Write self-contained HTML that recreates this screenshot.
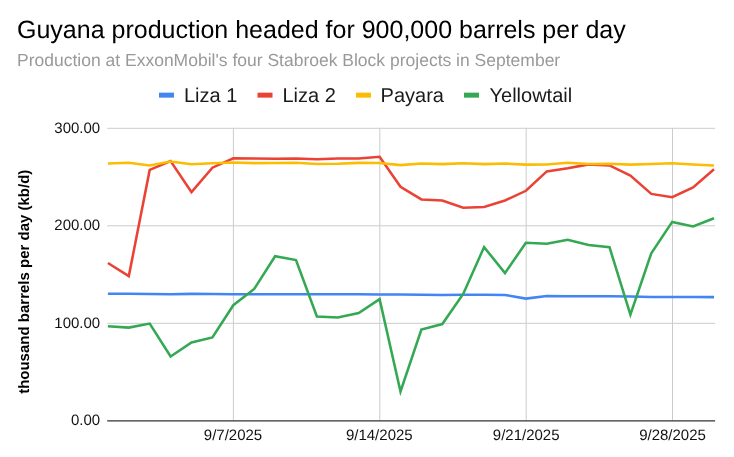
<!DOCTYPE html>
<html><head><meta charset="utf-8"><style>
html,body{margin:0;padding:0;background:#fff;}
svg{display:block;font-family:"Liberation Sans",Arial,sans-serif;text-rendering:geometricPrecision;}
</style></head><body>
<svg width="734" height="457" viewBox="0 0 734 457">
<rect width="734" height="457" fill="#fff"/>
<text x="17" y="38" font-size="25" fill="#000">Guyana production headed for 900,000 barrels per day</text>
<text x="17" y="66" font-size="17.5" fill="#999">Production at ExxonMobil's four Stabroek Block projects in September</text>
<g font-size="20" fill="#1a1a1a">
<rect x="159" y="92.65" width="15" height="5" fill="#4285f4"/><text x="184" y="101.5">Liza 1</text>
<rect x="257.5" y="92.65" width="15" height="5" fill="#ea4335"/><text x="282.5" y="101.5">Liza 2</text>
<rect x="356" y="92.65" width="15" height="5" fill="#fbbc04"/><text x="380.6" y="101.5">Payara</text>
<rect x="464" y="92.65" width="15" height="5" fill="#34a853"/><text x="489.5" y="101.5">Yellowtail</text>
</g>
<g stroke="#ccc" stroke-width="1">
<line x1="107.2" x2="715.1" y1="128.3" y2="128.3"/>
<line x1="107.2" x2="715.1" y1="225.8" y2="225.8"/>
<line x1="107.2" x2="715.1" y1="323.3" y2="323.3"/>
<line x1="233.4" x2="233.4" y1="127.8" y2="420.8"/>
<line x1="379.8" x2="379.8" y1="127.8" y2="420.8"/>
<line x1="526.2" x2="526.2" y1="127.8" y2="420.8"/>
<line x1="672.5" x2="672.5" y1="127.8" y2="420.8"/>
</g>
<line x1="107.2" x2="715.1" y1="420.85" y2="420.85" stroke="#333" stroke-width="1.1"/>
<g fill="none" stroke-width="2.55" stroke-linejoin="miter" stroke-miterlimit="10">
<polyline stroke="#4285f4" points="107.9,293.8 128.8,293.7 149.7,293.9 170.6,294.2 191.5,293.9 212.4,294.1 233.3,294.2 254.2,294.2 275.1,294.2 296.0,294.2 316.9,294.3 337.8,294.3 358.7,294.3 379.6,294.4 400.5,294.6 421.4,294.7 442.3,294.9 463.2,294.7 484.1,294.7 505.0,294.9 525.9,298.6 546.8,296.0 567.7,296.3 588.6,296.2 609.5,296.2 630.4,296.6 651.3,296.9 672.2,296.9 693.1,297.1 714.0,297.1"/>
<polyline stroke="#ea4335" points="107.9,263.0 128.8,276.1 149.7,169.9 170.6,161.1 191.5,192.2 212.4,167.7 233.3,158.3 254.2,158.6 275.1,158.7 296.0,158.5 316.9,159.2 337.8,158.5 358.7,158.5 379.6,156.8 400.5,186.8 421.4,199.4 442.3,200.5 463.2,207.7 484.1,207.0 505.0,200.5 525.9,190.8 546.8,171.4 567.7,168.3 588.6,164.4 609.5,165.4 630.4,175.5 651.3,193.9 672.2,197.2 693.1,187.4 714.0,169.3"/>
<polyline stroke="#fbbc04" points="107.9,163.4 128.8,162.7 149.7,165.5 170.6,161.6 191.5,164.2 212.4,163.3 233.3,162.5 254.2,163.1 275.1,162.9 296.0,162.7 316.9,164.0 337.8,163.8 358.7,162.9 379.6,163.1 400.5,165.1 421.4,163.5 442.3,164.1 463.2,163.3 484.1,164.1 505.0,163.5 525.9,164.6 546.8,164.4 567.7,162.8 588.6,163.9 609.5,163.7 630.4,164.6 651.3,163.9 672.2,163.3 693.1,164.4 714.0,165.5"/>
<polyline stroke="#34a853" points="107.9,326.3 128.8,327.6 149.7,323.6 170.6,356.5 191.5,342.5 212.4,337.5 233.3,305.2 254.2,289.0 275.1,256.2 296.0,260.1 316.9,316.4 337.8,317.5 358.7,313.1 379.6,299.1 400.5,391.5 421.4,329.6 442.3,324.1 463.2,293.9 484.1,247.1 505.0,273.1 525.9,242.7 546.8,243.7 567.7,239.8 588.6,245.0 609.5,247.2 630.4,314.7 651.3,253.2 672.2,221.9 693.1,226.4 714.0,218.2"/>
</g>
<g font-size="15" fill="#111" text-anchor="end">
<text x="100.2" y="132.9">300.00</text>
<text x="100.2" y="230.4">200.00</text>
<text x="100.2" y="327.9">100.00</text>
<text x="100.2" y="425.4">0.00</text>
</g>
<g font-size="15" fill="#111" text-anchor="middle">
<text x="233" y="440">9/7/2025</text>
<text x="379.3" y="440">9/14/2025</text>
<text x="526.2" y="440">9/21/2025</text>
<text x="672.5" y="440">9/28/2025</text>
</g>
<text transform="translate(29,281.75) rotate(-90)" font-size="15" font-weight="bold" fill="#000" text-anchor="middle">thousand barrels per day (kb/d)</text>
</svg>
</body></html>
